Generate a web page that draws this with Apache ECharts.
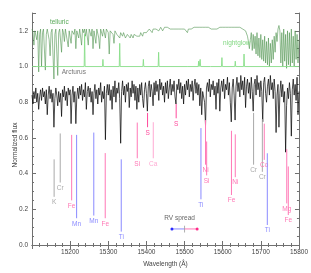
<!DOCTYPE html>
<html><head><meta charset="utf-8">
<script src="https://cdn.jsdelivr.net/npm/echarts@6/dist/echarts.min.js"></script>
<style>html,body{margin:0;padding:0;background:#fff}#c{width:311px;height:273px}</style>
</head><body><div id="c"></div>
<script>
// ---- data ----
const waveStart = 15100, waveStep = 2.5;   // sampling grid of the spectra (Angstrom)
const xTickValues = [15200, 15300, 15400, 15500, 15600, 15700, 15800];
const yTickValues = [0.0, 0.2, 0.4, 0.6, 0.8, 1.0, 1.2];

const telluricFlux = [
1.21,1.19,1.12,1.20,1.21,1.15,1.20,0.97,1.18,1.21,
1.00,1.19,1.21,1.20,0.98,1.18,1.21,1.20,1.15,1.06,
1.19,1.21,1.20,0.93,1.18,1.21,1.20,0.95,1.19,1.21,
1.20,1.08,1.21,1.19,1.14,1.21,1.20,1.21,1.11,1.20,
1.21,1.13,1.20,1.21,1.18,1.21,1.10,1.20,1.21,1.16,
1.21,1.20,1.12,1.21,1.19,1.21,1.17,1.21,1.20,1.12,
1.21,1.20,1.17,1.21,1.10,1.20,1.21,1.13,1.21,1.20,
1.16,1.10,1.21,1.20,1.17,1.21,1.20,1.16,1.21,1.20,
1.19,1.07,1.20,1.19,1.20,1.18,1.13,1.20,1.19,1.18,
1.19,1.18,1.16,1.19,1.18,1.17,1.19,1.18,1.16,1.15,
1.18,1.17,1.18,1.16,1.18,1.17,1.16,1.18,1.17,1.18,
1.17,1.18,1.16,1.17,1.19,1.18,1.17,1.19,1.18,1.20,
1.19,1.20,1.19,1.21,1.20,1.21,1.19,1.21,1.21,1.20,
1.21,1.22,1.21,1.20,1.21,1.22,1.21,1.20,1.21,1.22,
1.21,1.22,1.22,1.21,1.22,1.21,1.22,1.22,1.21,1.22,
1.22,1.21,1.22,1.22,1.21,1.22,1.22,1.21,1.22,1.22,
1.21,1.22,1.21,1.19,1.21,1.22,1.22,1.21,1.22,1.21,
1.22,1.22,1.21,1.22,1.21,1.22,1.22,1.21,1.22,1.22,
1.21,1.22,1.22,1.21,1.22,1.22,1.21,1.22,1.21,1.22,
1.22,1.21,1.22,1.22,1.21,1.22,1.21,1.22,1.22,1.21,
1.22,1.22,1.21,1.22,1.22,1.21,1.22,1.22,1.21,1.22,
1.22,1.21,1.22,1.22,1.21,1.22,1.22,1.21,1.22,1.22,
1.22,1.21,1.22,1.21,1.20,1.19,1.17,1.14,1.10,1.15,
1.19,1.09,1.18,1.10,1.17,1.07,1.19,1.06,1.16,1.05,
1.18,1.04,1.15,1.03,1.17,1.02,1.14,1.01,1.16,1.00,
1.13,1.02,1.15,1.04,1.17,1.08,1.19,1.14,1.21,1.23,
1.20,1.02,1.19,1.00,1.21,1.03,1.18,0.99,1.20,1.01,
1.19,1.00,1.21,1.02,1.17,1.00,1.20,1.04,1.18,1.02,
1.15];

const arcturusFlux = [
0.84,0.79,0.86,0.82,0.88,0.80,0.85,0.76,0.83,0.87,
0.81,0.88,0.83,0.86,0.79,0.87,0.73,0.84,0.89,0.82,
0.87,0.80,0.85,0.66,0.82,0.88,0.84,0.78,0.86,0.80,
0.85,0.72,0.87,0.83,0.89,0.81,0.86,0.78,0.88,0.84,
0.87,0.68,0.84,0.89,0.80,0.86,0.68,0.83,0.88,0.82,
0.89,0.84,0.90,0.81,0.87,0.83,0.91,0.76,0.86,0.89,
0.83,0.88,0.80,0.86,0.73,0.85,0.90,0.82,0.87,0.79,
0.88,0.84,0.91,0.80,0.86,0.82,0.89,0.59,0.85,0.90,
0.84,0.90,0.81,0.87,0.76,0.89,0.83,0.92,0.80,0.88,
0.85,0.91,0.82,0.57,0.86,0.92,0.84,0.89,0.80,0.90,
0.86,0.91,0.77,0.88,0.83,0.92,0.85,0.90,0.81,0.89,
0.76,0.88,0.80,0.90,0.84,0.91,0.82,0.77,0.87,0.91,
0.85,0.75,0.89,0.92,0.83,0.90,0.86,0.78,0.91,0.84,
0.92,0.86,0.90,0.81,0.93,0.87,0.91,0.84,0.89,0.80,
0.91,0.85,0.92,0.82,0.88,0.93,0.84,0.90,0.86,0.92,
0.83,0.79,0.90,0.87,0.93,0.85,0.91,0.82,0.89,0.79,
0.90,0.84,0.92,0.87,0.93,0.83,0.90,0.86,0.92,0.81,
0.89,0.93,0.85,0.91,0.84,0.90,0.78,0.88,0.73,0.86,
0.85,0.80,0.67,0.88,0.91,0.86,0.93,0.83,0.90,0.87,
0.92,0.84,0.89,0.76,0.91,0.85,0.93,0.75,0.88,0.92,
0.86,0.93,0.82,0.90,0.87,0.94,0.84,0.91,0.80,0.69,
0.88,0.93,0.84,0.70,0.89,0.94,0.86,0.91,0.83,0.95,
0.87,0.92,0.84,0.94,0.77,0.89,0.93,0.85,0.91,0.82,
0.94,0.86,0.75,0.90,0.93,0.84,0.95,0.87,0.91,0.83,
0.92,0.86,0.69,0.91,0.94,0.85,0.80,0.89,0.93,0.84,
0.95,0.87,0.91,0.82,0.93,0.86,0.63,0.84,0.90,0.66,
0.85,0.92,0.83,0.90,0.80,0.86,0.52,0.78,0.88,0.82,
0.91,0.85,0.61,0.87,0.93,0.84,0.90,0.81,0.94,0.73,
0.86];

const nightglowBase = 1.0;
const nightglowWave = [15238, 15286, 15330, 15392, 15432, 15510, 15537, 15541, 15569, 15598, 15633, 15656];
const nightglowPeak = [1.18, 1.04, 1.13, 1.04, 1.08, 1.01, 1.03, 1.04, 1.01, 1.05, 1.03, 1.07];

const lineLabel  = ['K','Cr','Fe','Mn','Mn','Fe','Ti','Si','S','Ca','S','Ti','Si','Ni','Fe','Ni','Cr','Cr','Co','Ti','Mg','Fe'];
const lineWave   = [15158,15174,15204,15217,15262,15292,15334,15376,15403,15418,15478,15543,15558,15555,15623,15633,15681,15704,15709,15717,15768,15772];
const lineTop    = [0.48,0.625,0.617,0.617,0.63,0.515,0.48,0.686,0.74,0.688,0.79,0.655,0.58,0.70,0.64,0.62,0.74,0.705,0.68,0.514,0.537,0.44];
const lineBottom = [0.27,0.35,0.25,0.15,0.165,0.15,0.075,0.486,0.66,0.486,0.71,0.256,0.39,0.45,0.28,0.38,0.45,0.41,0.477,0.112,0.233,0.168];

const annotationText = ['telluric', 'nightglow', 'Arcturus'];
const annotationWave = [15147, 15601, 15178];
const annotationFlux = [1.247, 1.131, 0.966];

const rvLabel = 'RV spread';
const rvSpread = [15467, 15533];
const rvCenter = 15500;
const rvLevel = 0.09;

// ---- build ----
const FONT = '"Liberation Sans", Arial, sans-serif';
const elementColor = {K:'#a9a9a9', Cr:'#a9a9a9', Mn:'#8a8aff', Ti:'#8a8aff', Ca:'#ffaad3', S:'#ff4a9c'};
const colorFor = l => elementColor[l] || '#ff78b6';

const toXY = arr => arr.map((v, i) => [waveStart + i * waveStep, v]);
const nightglowData = [[waveStart, nightglowBase]];
nightglowWave.forEach((w, i) => {
  nightglowData.push([w - 1.2, nightglowBase], [w, nightglowPeak[i]], [w + 1.2, nightglowBase]);
});
nightglowData.push([15800, nightglowBase]);

const AX = '#707070';
const tickStyle = {
  axisLine: {show: true, lineStyle: {color: AX, width: 1}},
  axisTick: {show: true, inside: true, length: 4, lineStyle: {color: AX, width: 1}},
  splitLine: {show: false},
};

const chart = echarts.init(document.getElementById('c'), null, {renderer: 'canvas'});
chart.setOption({
  animation: false,
  backgroundColor: '#fff',
  grid: {left: 32, right: 11, top: 13, bottom: 28},
  xAxis: [
    Object.assign({
      type: 'value', min: 15100, max: 15800, interval: 100, position: 'bottom',
      axisLabel: {show: true, fontSize: 6.5, fontFamily: FONT, color: '#444', margin: 4,
        showMinLabel: false, formatter: v => xTickValues.includes(v) ? String(v) : ''},
      name: 'Wavelength (Å)', nameLocation: 'middle', nameGap: 13,
      nameTextStyle: {fontSize: 6.5, fontFamily: FONT, color: '#444'}
    }, tickStyle, {minorTick: {show: true, splitNumber: 5, length: 2, lineStyle: {color: AX}}}),
    Object.assign({
      type: 'value', min: 15100, max: 15800, interval: 100, position: 'top',
      axisLabel: {show: false}
    }, tickStyle, {minorTick: {show: true, splitNumber: 5, length: 2, lineStyle: {color: AX}}})
  ],
  yAxis: [
    Object.assign({
      type: 'value', min: 0, max: 1.3, interval: 0.2, position: 'left',
      axisLabel: {show: true, fontSize: 6.5, fontFamily: FONT, color: '#444', margin: 4,
        showMaxLabel: false,
        formatter: v => yTickValues.some(t => Math.abs(t - v) < 1e-6) ? v.toFixed(1) : ''}
    }, tickStyle, {minorTick: {show: true, splitNumber: 4, length: 2, lineStyle: {color: AX}}}),
    Object.assign({
      type: 'value', min: 0, max: 1.3, interval: 0.2, position: 'right',
      axisLabel: {show: false}
    }, tickStyle, {minorTick: {show: true, splitNumber: 4, length: 2, lineStyle: {color: AX}}})
  ],
  graphic: [{
    type: 'text', x: 15, y: 145, rotation: Math.PI / 2,
    style: {text: 'Normalized flux', font: '6.5px ' + FONT, fill: '#444', align: 'center', verticalAlign: 'middle'}
  }],
  series: [
    {
      name: 'telluric', type: 'line', data: toXY(telluricFlux), showSymbol: false, symbol: 'none',
      lineStyle: {color: '#4f944f', width: 0.6}, z: 2
    },
    {
      name: 'nightglow', type: 'line', data: nightglowData, showSymbol: false, symbol: 'none',
      lineStyle: {color: '#88de88', width: 0.9}, z: 3
    },
    {
      name: 'Arcturus', type: 'line', data: toXY(arcturusFlux), showSymbol: false, symbol: 'none',
      lineStyle: {color: '#000', width: 0.7}, z: 4
    },
    {
      name: 'lines', type: 'custom', z: 5,
      data: lineWave.map((w, i) => [w, lineTop[i], lineBottom[i], i]),
      encode: {x: 0, y: [1, 2]},
      renderItem: (params, api) => {
        const i = api.value(3);
        const p1 = api.coord([api.value(0), api.value(1)]);
        const p2 = api.coord([api.value(0), api.value(2)]);
        const col = colorFor(lineLabel[i]);
        return {type: 'group', children: [
          {type: 'line', shape: {x1: p1[0], y1: p1[1], x2: p2[0], y2: p2[1]}, style: {stroke: col, lineWidth: 1}},
          {type: 'text', x: p2[0], y: p2[1] + 2,
           style: {text: lineLabel[i], fill: col, font: '6.5px ' + FONT, align: 'center', verticalAlign: 'top'}}
        ]};
      }
    },
    {
      name: 'annotations', type: 'custom', z: 6,
      data: annotationWave.map((w, i) => [w, annotationFlux[i], i]),
      encode: {x: 0, y: 1},
      renderItem: (params, api) => {
        const i = api.value(2);
        const p = api.coord([api.value(0), api.value(1)]);
        const cols = ['#58a858', '#7fd67f', '#777'];
        return {type: 'text', x: p[0], y: p[1],
          style: {text: annotationText[i], fill: cols[i], font: '6.5px ' + FONT, align: 'left', verticalAlign: 'middle'}};
      }
    },
    {
      name: 'rv', type: 'custom', z: 6,
      data: [[rvSpread[0], rvSpread[1], rvCenter, rvLevel]],
      encode: {x: [0, 1], y: 3},
      renderItem: (params, api) => {
        const a = api.coord([api.value(0), api.value(3)]);
        const b = api.coord([api.value(1), api.value(3)]);
        const c = api.coord([api.value(2), api.value(3)]);
        const t1 = api.coord([api.value(2), api.value(3) - 0.02]);
        const t2 = api.coord([api.value(2), api.value(3) + 0.018]);
        const lbl = api.coord([api.value(2) - 13, api.value(3) + 0.06]);
        return {type: 'group', children: [
          {type: 'line', shape: {x1: a[0], y1: a[1], x2: c[0], y2: c[1]}, style: {stroke: '#8a8aff', lineWidth: 1}},
          {type: 'line', shape: {x1: c[0], y1: c[1], x2: b[0], y2: b[1]}, style: {stroke: '#ff78b6', lineWidth: 1}},
          {type: 'line', shape: {x1: t1[0], y1: t1[1], x2: t2[0], y2: t2[1]}, style: {stroke: '#999', lineWidth: 0.8}},
          {type: 'circle', shape: {cx: a[0], cy: a[1], r: 1.5}, style: {fill: '#2a2aff'}},
          {type: 'circle', shape: {cx: b[0], cy: b[1], r: 1.5}, style: {fill: '#ff2a88'}},
          {type: 'text', x: lbl[0], y: lbl[1],
           style: {text: rvLabel, fill: '#666', font: '6.5px ' + FONT, align: 'center', verticalAlign: 'middle'}}
        ]};
      }
    }
  ]
});
</script></body></html>
